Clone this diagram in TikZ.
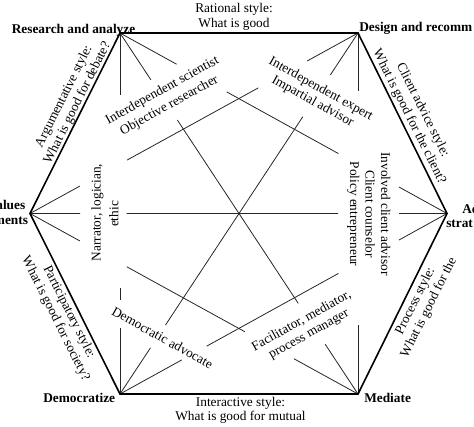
\documentclass[tikz,border=0pt]{standalone}
\usepackage{fontspec}
\setmainfont{Liberation Serif}
\usetikzlibrary{calc}
\tikzset{
  lab/.style={inner sep=0pt, font=\fontsize{10}{12}\selectfont},
  vlab/.style={lab, font=\fontsize{10}{12}\selectfont\bfseries},
  diag/.style={line width=0.6pt, draw=black!85},
  hexedge/.style={line width=1.2pt, draw=black, line join=miter}
}
\begin{document}
\begin{tikzpicture}[x=0.75pt,y=-0.75pt]
\useasboundingbox (0,0) rectangle (474,426);
% vertices
\coordinate (A) at (120,33);
\coordinate (B) at (358,33);
\coordinate (C) at (447,213.5);
\coordinate (D) at (358,394);
\coordinate (E) at (120,394);
\coordinate (F) at (30,213.5);
% diagonals, interrupted by the labels
\draw[diag] (A) -- ($(A)!0.173!(C)$) ($(A)!0.326!(C)$) -- ($(A)!0.668!(C)$) ($(A)!0.853!(C)$) -- (C);
\draw[diag] (A) -- ($(A)!0.130!(D)$) ($(A)!0.241!(D)$) -- ($(A)!0.749!(D)$) ($(A)!0.862!(D)$) -- (D);
\draw[diag] (A) -- ($(A)!0.172!(E)$) ($(A)!0.707!(E)$) -- ($(A)!0.740!(E)$) ($(A)!0.817!(E)$) -- (E);
\draw[diag] (B) -- ($(B)!0.155!(F)$) ($(B)!0.304!(F)$) -- ($(B)!0.704!(F)$) ($(B)!0.848!(F)$) -- (F);
\draw[diag] (B) -- ($(B)!0.116!(E)$) ($(B)!0.232!(E)$) -- ($(B)!0.809!(E)$) ($(B)!0.872!(E)$) -- (E);
\draw[diag] (B) -- ($(B)!0.160!(D)$) ($(B)!0.810!(D)$) -- (D);
\draw[diag] (C) -- ($(C)!0.147!(E)$) ($(C)!0.332!(E)$) -- ($(C)!0.735!(E)$) ($(C)!0.811!(E)$) -- (E);
\draw[diag] (F) -- ($(F)!0.120!(C)$) ($(F)!0.232!(C)$) -- ($(F)!0.739!(C)$) ($(F)!0.885!(C)$) -- (C);
\draw[diag] (F) -- ($(F)!0.152!(D)$) ($(F)!0.295!(D)$) -- ($(F)!0.655!(D)$) ($(F)!0.805!(D)$) -- (D);
% hexagon
\draw[hexedge] (A) -- (B) -- (C) -- (D) -- (E) -- (F) -- cycle;
% vertex labels
\node[vlab, anchor=base] (ra) at (73.5,33) {Research and analyze};
\node[vlab, anchor=base west] (dr) at (359,31) {Design and recomm};
\node[vlab, anchor=base west] (as1) at (462,213) {Ad};
\node[vlab, anchor=base west] (as2) at (446,227.5) {strat};
\node[vlab, anchor=base east] (cv1) at (25.5,209) {alues};
\node[vlab, anchor=base east] (cv2) at (28.3,224) {ments};
\node[vlab, anchor=base] (dz) at (79.2,402) {Democratize};
\node[vlab, anchor=base west] (md) at (364,402) {Mediate};
% edge labels
\node[lab, anchor=base] (rat1) at (234,12.8) {Rational style:};
\node[lab, anchor=base] (rat2) at (234,27.8) {What is good};
\node[lab, anchor=base] (int1) at (240.5,406) {Interactive style:};
\node[lab, anchor=base] (int2) at (240.5,420.5) {What is good for mutual};
\node[lab, anchor=base, rotate=63.4] (arg1) at (67,98) {Argumentative style:};
\node[lab, anchor=base, rotate=63.4] (arg2) at (80.5,104.5) {What is good for debate?};
\node[lab, anchor=base, rotate=-63.4] (cli1) at (419.7,111.6) {Client advice style:};
\node[lab, anchor=base, rotate=-63.4] (cli2) at (406.3,118.3) {What is good for the client?};
\node[lab, anchor=base, rotate=-63.4] (par1) at (66,313.5) {Participatory style:};
\node[lab, anchor=base, rotate=-63.4] (par2) at (52.6,320.2) {What is good for society?};
\node[lab, anchor=base, rotate=63.4] (pro1) at (418.5,302.5) {Process style:};
\node[lab, anchor=base, rotate=63.4] (pro2) at (431.9,309.2) {What is good for the};
% role labels
\node[lab, anchor=base, rotate=29] (sci1) at (164,93.5) {Interdependent scientist};
\node[lab, anchor=base, rotate=29] (sci2) at (171,108.5) {Objective researcher};
\node[lab, anchor=base, rotate=-29] (exp1) at (319.2,92) {Interdependent expert};
\node[lab, anchor=base, rotate=-29] (exp2) at (311,104.5) {Impartial advisor};
\node[lab, anchor=base, rotate=90] (nar1) at (100.7,212.5) {Narrator, logician,};
\node[lab, anchor=base, rotate=90] (nar2) at (118.3,214) {ethic};
\node[lab, anchor=base, rotate=-90] (inv1) at (381,214) {Involved client advisor};
\node[lab, anchor=base, rotate=-90] (inv2) at (365.5,214) {Client counselor};
\node[lab, anchor=base, rotate=-90] (inv3) at (350,214) {Policy entrepreneur};
\node[lab, anchor=base, rotate=-29] (dem) at (160.3,341.6) {Democratic advocate};
\node[lab, anchor=base, rotate=29] (fac1) at (303.2,324.1) {Facilitator, mediator,};
\node[lab, anchor=base, rotate=29] (fac2) at (310.5,337.3) {process manager};
\end{tikzpicture}
\end{document}
